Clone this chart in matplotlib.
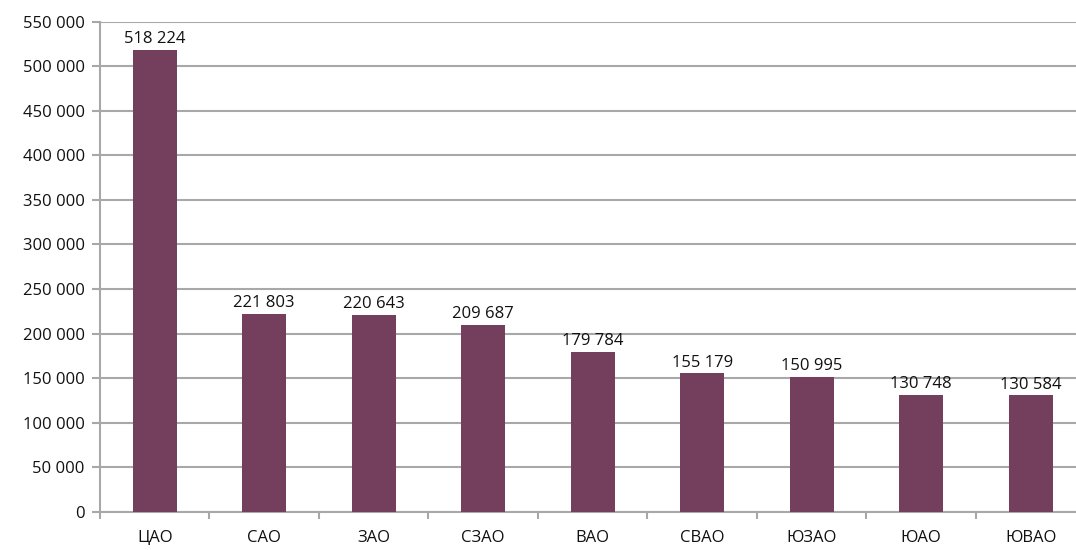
import matplotlib.pyplot as plt
from matplotlib.ticker import FuncFormatter, MultipleLocator

districts = ['ЦАО', 'САО', 'ЗАО', 'СЗАО', 'ВАО', 'СВАО', 'ЮЗАО', 'ЮАО', 'ЮВАО']
values = [518224, 221803, 220643, 209687, 179784, 155179, 150995, 130748, 130584]

bar_color = '#733f5c'
grid_color = '#a8a8a8'
text_color = '#111111'


def space_thousands(v, pos=None):
    return f'{int(v):,}'.replace(',', ' ')


plt.rcParams['font.family'] = ['Open Sans', 'DejaVu Sans']

fig = plt.figure(figsize=(10.76, 5.5), dpi=100)
# plot area runs a little past the right edge of the canvas
ax = fig.add_axes([0.0929, 0.0696, 0.9159, 0.891])

x = range(len(districts))
ax.bar(x, values, width=0.4, color=bar_color, zorder=3)

for xi, v in zip(x, values):
    ax.annotate(space_thousands(v), (xi, v), xytext=(0, 2),
                textcoords='offset points', ha='center', va='bottom',
                fontsize=12, color=text_color, zorder=4)

ax.set_xlim(-0.5, len(districts) - 0.5)
ax.set_ylim(0, 550000)
ax.yaxis.set_major_locator(MultipleLocator(50000))
ax.yaxis.set_major_formatter(FuncFormatter(space_thousands))
ax.grid(axis='y', color=grid_color, linewidth=1.5, zorder=0)

ax.set_xticks(list(x))
ax.set_xticklabels(districts)
ax.set_xticks([i - 0.5 for i in range(len(districts) + 1)], minor=True)
ax.tick_params(axis='x', which='major', length=0, pad=13, labelsize=12,
               labelcolor=text_color)
ax.tick_params(axis='x', which='minor', length=5, width=1.5, color=grid_color)
ax.tick_params(axis='y', length=6, width=1.5, color=grid_color, pad=5,
               labelsize=12, labelcolor=text_color)

for side in ['top', 'right']:
    ax.spines[side].set_visible(False)
for side in ['left', 'bottom']:
    ax.spines[side].set_color(grid_color)
    ax.spines[side].set_linewidth(1.5)

fig.savefig('out.png', dpi=100)
